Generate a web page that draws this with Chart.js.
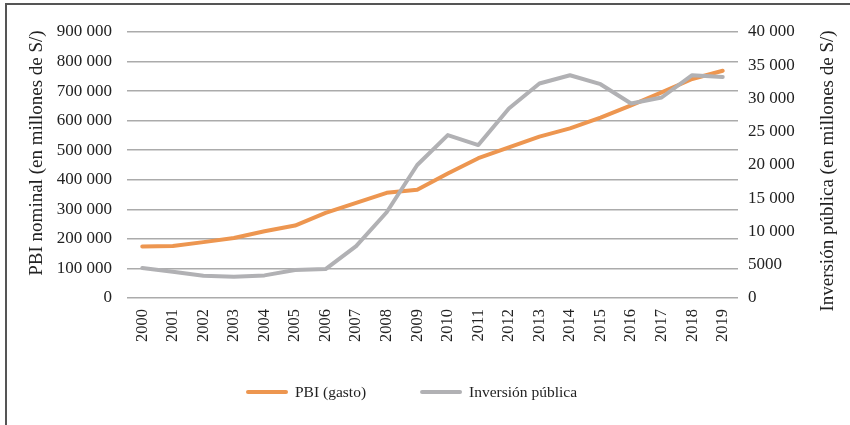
<!DOCTYPE html>
<html>
<head>
<meta charset="utf-8">
<script src="https://cdn.jsdelivr.net/npm/chart.js@4"></script>
<style>
  html, body { margin: 0; padding: 0; background: #fff; }
  #wrap { position: relative; width: 850px; height: 425px; overflow: hidden; }
  #frame { position: absolute; left: 5px; top: 3px; width: 900px; height: 500px; border: 2px solid #555; }
  canvas { position: absolute; left: 0; top: 0; }
</style>
</head>
<body>
<div id="wrap">
  <div id="frame"></div>
  <canvas id="chart" width="850" height="425"></canvas>
</div>
<script>
// years and series (millones de S/)
const years = ['2000','2001','2002','2003','2004','2005','2006','2007','2008','2009',
  '2010','2011','2012','2013','2014','2015','2016','2017','2018','2019'];
const pbiGasto = [174000, 176000, 189000, 203000, 226000, 245000, 288000, 322000, 356000, 366000,
  421000, 473000, 510000, 546000, 574000, 610000, 652000, 696000, 741000, 769000];
const inversionPublica = [4500, 3950, 3350, 3200, 3400, 4200, 4350, 7800, 12900, 20000,
  24500, 23000, 28500, 32250, 33500, 32150, 29250, 30150, 33500, 33250];

const leftTicks = [0, 100000, 200000, 300000, 400000, 500000, 600000, 700000, 800000, 900000];
const rightTicks = [0, 5000, 10000, 15000, 20000, 25000, 30000, 35000, 40000];

const leftTitle = 'PBI nominal (en millones de S/)';
const rightTitle = 'Inversión pública (en millones de S/)';

const serif = '"Liberation Serif", "Times New Roman", serif';
const textColor = '#222';

// 10 000 style, but 5000 stays plain
function fmt(v) {
  if (v < 10000) return String(v);
  return String(v).replace(/\B(?=(\d{3})+(?!\d))/g, ' ');
}

// both axis titles read bottom-to-top, so draw them here
const axisTitles = {
  id: 'axisTitles',
  afterDraw(chart) {
    const ctx = chart.ctx;
    ctx.save();
    ctx.fillStyle = textColor;
    ctx.font = '19px ' + serif;
    ctx.textAlign = 'center';
    ctx.textBaseline = 'middle';
    [[37, 153, leftTitle], [828, 171, rightTitle]].forEach(([x, y, t]) => {
      ctx.save();
      ctx.translate(x, y);
      ctx.rotate(-Math.PI / 2);
      ctx.fillText(t, 0, 0);
      ctx.restore();
    });
    ctx.restore();
  }
};

// legend with line samples, spaced like the original
const lineLegend = {
  id: 'lineLegend',
  afterDraw(chart) {
    const ctx = chart.ctx;
    const y = 392;
    let x = 246;
    ctx.save();
    ctx.font = '15.5px ' + serif;
    ctx.textBaseline = 'middle';
    ctx.textAlign = 'left';
    chart.data.datasets.forEach(ds => {
      ctx.strokeStyle = ds.borderColor;
      ctx.lineWidth = 4;
      ctx.lineCap = 'round';
      ctx.beginPath();
      ctx.moveTo(x + 2, y);
      ctx.lineTo(x + 40, y);
      ctx.stroke();
      ctx.fillStyle = textColor;
      ctx.fillText(ds.label, x + 49, y + 1);
      x += 49 + ctx.measureText(ds.label).width + 54;
    });
    ctx.restore();
  }
};

Chart.defaults.font.family = serif;
Chart.defaults.font.size = 17;
Chart.defaults.color = textColor;

new Chart(document.getElementById('chart').getContext('2d'), {
  type: 'line',
  data: {
    labels: years,
    datasets: [
      {
        label: 'PBI (gasto)',
        data: pbiGasto,
        yAxisID: 'y',
        borderColor: '#ED9650',
        borderWidth: 4,
        pointRadius: 0,
        tension: 0,
        borderCapStyle: 'round',
        borderJoinStyle: 'round',
        order: 1
      },
      {
        label: 'Inversión pública',
        data: inversionPublica,
        yAxisID: 'y2',
        borderColor: '#B1B1B4',
        borderWidth: 4,
        pointRadius: 0,
        tension: 0,
        borderCapStyle: 'round',
        borderJoinStyle: 'round',
        order: 0
      }
    ]
  },
  options: {
    responsive: false,
    animation: false,
    layout: { padding: { top: 32, bottom: 27, left: 0, right: 0 } },
    plugins: {
      tooltip: { enabled: false },
      legend: { display: false }
    },
    scales: {
      x: {
        offset: true,
        grid: { display: false, drawTicks: false },
        border: { display: false },
        ticks: { minRotation: 90, maxRotation: 90, padding: 11, autoSkip: false, color: textColor, font: { size: 16.5 } },
        afterFit(scale) { scale.height = 100; }
      },
      y: {
        position: 'left',
        min: 0, max: 900000,
        afterBuildTicks(scale) { scale.ticks = leftTicks.map(v => ({ value: v })); },
        grid: { color: '#ababab', lineWidth: 1.5, drawTicks: false },
        border: { display: false },
        ticks: { padding: 15, color: textColor, callback: v => fmt(v) },
        afterFit(scale) { scale.width = 127; }
      },
      y2: {
        position: 'right',
        min: 0, max: 40000,
        afterBuildTicks(scale) { scale.ticks = rightTicks.map(v => ({ value: v })); },
        grid: { display: false, drawTicks: false },
        border: { display: false },
        ticks: { padding: 10, color: textColor, callback: v => fmt(v) },
        afterFit(scale) { scale.width = 112; }
      }
    }
  },
  plugins: [axisTitles, lineLegend]
});
</script>
</body>
</html>
